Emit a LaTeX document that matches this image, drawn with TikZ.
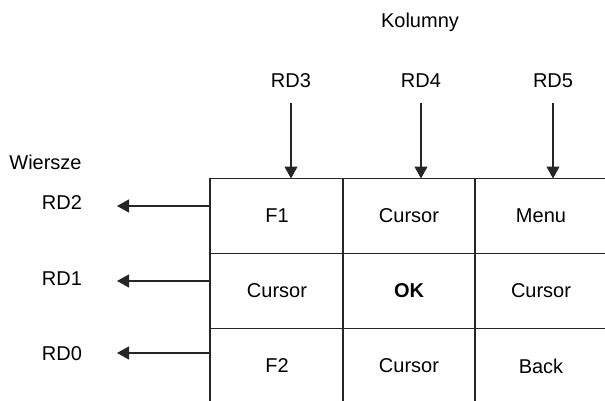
\documentclass[tikz,border=0pt]{standalone}
\usepackage{fontspec}
\setmainfont{Liberation Sans}
\usetikzlibrary{arrows.meta}
\begin{document}
\begin{tikzpicture}[x=1pt,y=-1pt,
  every node/.style={font=\fontsize{20}{24}\selectfont, inner sep=0pt},
  gridline/.style={line width=1.3pt, black!85},
  arr/.style={line width=1.2pt, black!85, -{Triangle[length=12pt,width=13pt]}},
  cell/.style={anchor=center}
]
\useasboundingbox (0,0) rectangle (605,401);

% key matrix grid (open on the right and bottom)
\draw[gridline] (210,178.5) -- (210,401);
\draw[gridline] (343,178.5) -- (343,401);
\draw[gridline] (475,178.5) -- (475,401);
\draw[gridline] (209.35,178.5) -- (605,178.5);
\draw[gridline] (210,253.5) -- (605,253.5);
\draw[gridline] (210,328.5) -- (605,328.5);

% key labels
\node[cell] (k11) at (277,216) {F1};
\node[cell] (k12) at (409,216) {Cursor};
\node[cell] (k13) at (541,216) {Menu};
\node[cell] (k21) at (277,291) {Cursor};
\node[cell] (k22) at (409,291) {\textbf{OK}};
\node[cell] (k23) at (541,291) {Cursor};
\node[cell] (k31) at (277,366) {F2};
\node[cell] (k32) at (409,366) {Cursor};
\node[cell] (k33) at (541,366) {Back};

% column lines
\node (kol) at (420,22) {Kolumny};
\node (rd3) at (291,81) {RD3};
\node (rd4) at (421,81) {RD4};
\node (rd5) at (553,81) {RD5};
\coordinate (c3s) at (291,103);
\coordinate (c4s) at (421,103);
\coordinate (c5s) at (553,103);
\coordinate (c3e) at (291,178.5);
\coordinate (c4e) at (421,178.5);
\coordinate (c5e) at (553,178.5);
\draw[arr] (c3s) -- (c3e);
\draw[arr] (c4s) -- (c4e);
\draw[arr] (c5s) -- (c5e);

% row lines
\node (wie) at (45.5,162) {Wiersze};
\node (rd2) at (62,203) {RD2};
\node (rd1) at (62,279) {RD1};
\node (rd0) at (62,354) {RD0};
\coordinate (r2s) at (210,206);
\coordinate (r1s) at (210,281);
\coordinate (r0s) at (210,353);
\coordinate (r2e) at (117,206);
\coordinate (r1e) at (117,281);
\coordinate (r0e) at (117,353);
\draw[arr] (r2s) -- (r2e);
\draw[arr] (r1s) -- (r1e);
\draw[arr] (r0s) -- (r0e);
\end{tikzpicture}
\end{document}
